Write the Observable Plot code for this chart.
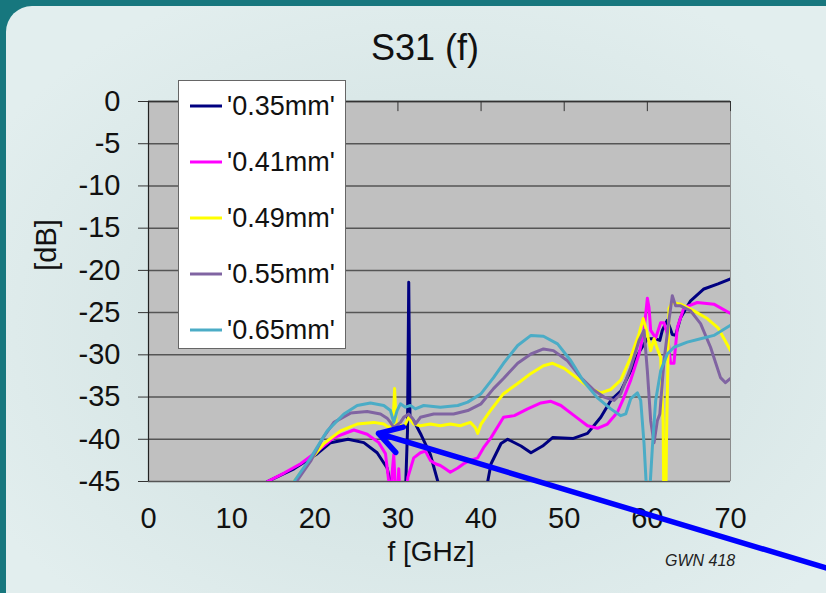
<!DOCTYPE html>
<html>
<head>
<meta charset="utf-8">
<script src="https://cdn.jsdelivr.net/npm/d3@7"></script>
<script src="https://cdn.jsdelivr.net/npm/@observablehq/plot@0.6"></script>
<style>
html,body{margin:0;padding:0;width:826px;height:593px;overflow:hidden;background:#17777e;font-family:Arial,"Liberation Sans",sans-serif;color:#111;}
#panel{position:absolute;left:6px;top:6px;width:850px;height:620px;border-radius:26px;
  background:radial-gradient(ellipse 60% 60% at 50% 52%, #cbdbdb 0%, #d6e5e5 45%, #e2eeee 100%);}
#chart{position:absolute;left:0;top:0;}
.lbl{position:absolute;line-height:1;white-space:nowrap;}
#legend{position:absolute;left:178px;top:80px;width:168px;height:269px;background:#fff;border:1px solid #666;box-sizing:border-box;}
.item{position:absolute;left:11px;height:28px;display:flex;align-items:center;font-size:27px;line-height:1;}
.item svg{margin-right:5px;}
</style>
</head>
<body>
<div id="panel"></div>
<div id="chart"></div>
<div class="lbl" id="title" style="left:325px;width:200px;text-align:center;top:30px;font-size:36px;">S31 (f)</div>
<div class="lbl" id="xlabel" style="left:331px;width:200px;text-align:center;top:538px;font-size:28px;">f [GHz]</div>
<div class="lbl" id="ylabel" style="left:46px;top:245px;font-size:29px;transform:translate(-50%,-50%) rotate(-90deg);">[dB]</div>
<div class="lbl" id="note" style="left:665px;top:553px;font-size:16px;font-style:italic;color:#222;">GWN 418</div>
<div id="legend"></div>
<script>
// ---- data ----
const seriesNames = ["'0.35mm'", "'0.41mm'", "'0.49mm'", "'0.55mm'", "'0.65mm'"];
const seriesColors = ["#000080", "#ff00ff", "#ffff00", "#8064a2", "#4bacc6"];
const xTicks = [0, 10, 20, 30, 40, 50, 60, 70];
const yTicks = [0, -5, -10, -15, -20, -25, -30, -35, -40, -45];

const f_035  = [13, 14.3, 17.5, 20.3, 21.9, 24, 25.9, 27.5, 28.7, 29.3, 29.6, 30.6, 30.95, 31.15, 31.3, 31.45, 31.9, 32.8, 33.9, 34.8, 35.2, 40.2, 40.8, 41.2, 42.4, 43.2, 44.8, 46, 47.4, 48.6, 51.1, 52.8, 54.4, 55.6, 56.8, 58, 59, 60, 61, 61.5, 61.8, 62.4, 63, 63.4, 64, 65.2, 66.8, 68.5, 70];
const db_035 = [-47, -45, -43.5, -41.7, -40.4, -40, -40.4, -41.6, -43.4, -46, -50, -50, -45, -39, -21.4, -37.5, -37.8, -39.5, -41.8, -45, -50, -50, -45, -42.9, -40.5, -40, -40.8, -41.6, -40.8, -39.8, -39.9, -39.3, -37.4, -35.4, -34.3, -31.9, -29.7, -28.1, -28.1, -28.3, -27.1, -25.9, -27.6, -27.7, -25.6, -23.6, -22.2, -21.6, -21];

const f_041  = [13, 14.3, 16.3, 18.3, 20.3, 22.3, 24.7, 26.3, 27.7, 28.5, 28.9, 29.1, 29.3, 29.5, 29.7, 29.9, 30.1, 30.3, 30.8, 31.2, 31.9, 32.7, 33.3, 33.9, 34.5, 35.1, 35.7, 36.3, 37.2, 37.9, 38.7, 39.6, 40.3, 41.2, 42.7, 44, 45.6, 47.2, 48.4, 49.6, 51.2, 52.8, 54, 55.2, 56.4, 57.2, 58, 59, 59.6, 60, 60.2, 60.4, 61, 61.6, 62, 62.4, 62.8, 63.2, 63.6, 64.4, 66, 68, 70];
const db_041 = [-47, -45, -44, -42.9, -41.4, -39.8, -38.9, -39.4, -40.4, -41.7, -45, -48, -44, -41.8, -46, -48, -43.5, -48, -48, -44.5, -42.2, -41.6, -41.4, -42.5, -42.9, -43.1, -43.5, -43.9, -43.4, -42.9, -42.5, -42.2, -41, -39.8, -37.4, -37.2, -36.4, -35.7, -35.5, -36, -37.2, -38.4, -38.7, -38.2, -36.8, -35, -33, -29.9, -27.1, -23.3, -24.4, -27.1, -28, -26.2, -26.2, -27.5, -31, -31, -26.8, -24.4, -23.8, -24, -25.1];

const f_049  = [15, 17.5, 19.1, 21.1, 23.1, 25.1, 27.1, 28.3, 28.9, 29.4, 29.6, 29.8, 30.1, 30.7, 31.3, 31.9, 32.7, 33.9, 35.1, 36.3, 37.5, 38.7, 39.3, 39.6, 40, 41.2, 42.7, 44.4, 46, 47.5, 48.6, 50, 51.6, 53.2, 54.4, 55.6, 56.8, 58, 59, 59.5, 60, 60.4, 60.8, 61.2, 61.6, 61.9, 62.0, 62.2, 62.3, 62.6, 63, 64, 65.6, 67.2, 68.5, 70];
const db_049 = [-50, -45, -42.9, -40.5, -39, -38.2, -38, -38.2, -38.6, -38.4, -34, -38.3, -38.2, -38.6, -37.4, -38.2, -38.4, -38.2, -38.4, -38.2, -38.4, -38, -38.6, -39.3, -38.2, -36.5, -34.6, -33.4, -32.2, -31.3, -31, -31.6, -32.8, -34, -34.5, -34.1, -33, -30.3, -27.5, -25.7, -27.5, -29.5, -28.1, -29.3, -30.3, -38, -50, -50, -40, -24.5, -23.8, -24, -24.8, -25.7, -26.8, -29.5];

const f_055  = [17, 17.8, 19.5, 21, 22.3, 24.3, 26.3, 27.9, 28.7, 29.1, 29.5, 30.3, 30.7, 31.3, 31.8, 32.1, 32.7, 34.3, 36.7, 38.4, 40, 41.5, 42.7, 44.4, 46, 47.5, 48.7, 50.4, 52, 53.6, 54.8, 56, 56.8, 58, 59, 59.6, 60, 60.4, 60.8, 61.2, 61.5, 62, 62.6, 63, 63.4, 64, 65.2, 66.4, 67.6, 68.8, 69.4, 70];
const db_055 = [-50, -45, -42.6, -39.8, -38, -36.9, -36.7, -37, -37.5, -38, -38.6, -38, -37.4, -37, -37.6, -38.2, -37.4, -37, -37, -36.6, -35.8, -34, -32.8, -31, -29.9, -29.3, -29.5, -30.7, -32.7, -34.2, -35, -35.4, -34.6, -31.5, -28.3, -27.1, -31.9, -37.8, -40.4, -37.8, -37, -30.7, -25.9, -23, -24.2, -24.2, -24.8, -26.3, -29.1, -32.7, -33.3, -32.8];

const f_065  = [16.5, 17.5, 19.5, 21.5, 23.5, 25.1, 26.7, 28.3, 29.1, 29.5, 29.9, 30.3, 30.9, 31.5, 32.1, 33.1, 35.1, 37.2, 38.4, 40, 41.5, 42.7, 44.4, 46, 47.5, 49.2, 50.8, 52.3, 54, 55.6, 56.8, 57.4, 58, 58.8, 59.2, 59.6, 59.9, 60.1, 60.3, 60.6, 61, 61.6, 62.4, 63.2, 64.8, 66.4, 68, 70];
const db_065 = [-50, -45, -42.2, -39, -37, -36, -35.7, -36, -36.6, -38, -36.6, -35.8, -36.2, -36, -36.4, -36, -36.2, -36, -35.6, -34.6, -32.7, -31, -28.9, -27.7, -27.8, -28.7, -30.7, -33.1, -35.1, -36.4, -37.2, -37, -35.2, -34.5, -35.4, -40.5, -46, -50, -46, -41, -35.4, -31.9, -29.9, -29.1, -28.5, -28.1, -27.7, -26.5];

// annotation arrow (from lower-right, pointing into the curves)
const arrowNote = [{f1: 84.4, db1: -56.1, f2: 27.66, db2: -39.3}];

// ---- build table ----
const fs = [f_035, f_041, f_049, f_055, f_065];
const dbs = [db_035, db_041, db_049, db_055, db_065];
const rows = [];
seriesNames.forEach((s, i) => fs[i].forEach((f, j) => rows.push({series: s, f, db: dbs[i][j]})));

const chart = Plot.plot({
  width: 826,
  height: 593,
  marginLeft: 148,
  marginRight: 96,
  marginTop: 101,
  marginBottom: 112,
  style: {background: "transparent", fontFamily: "Arial, 'Liberation Sans', sans-serif", color: "#111"},
  x: {domain: [0, 70]},
  y: {domain: [-45, 0]},
  color: {domain: seriesNames, range: seriesColors},
  marks: [
    Plot.frame({fill: "#c0c0c0", stroke: null}),
    Plot.ruleY(yTicks, {stroke: "#555", strokeWidth: 1.5}),
    Plot.ruleX([70], {stroke: "#8c8c8c", strokeWidth: 1}),
    Plot.ruleY([0], {stroke: "#333", strokeWidth: 1.5}),
    Plot.ruleX(xTicks.slice(1), {y1: 0, y2: -1.2, stroke: "#333", strokeWidth: 1}),
    Plot.ruleX([0], {stroke: "#222", strokeWidth: 1.2}),
    Plot.axisY(yTicks, {anchor: "left", tickSize: 10, tickPadding: 18, fontSize: 29, label: null, stroke: "#333", tickFormat: (d) => String(d)}),
    Plot.axisX(xTicks, {anchor: "bottom", tickSize: 0, tickPadding: 26, fontSize: 29, label: null, tickFormat: (d) => String(d)}),
    Plot.line(rows, {x: "f", y: "db", z: "series", stroke: "series", strokeWidth: 3, clip: true}),
    Plot.arrow(arrowNote, {x1: "f1", y1: "db1", x2: "f2", y2: "db2", stroke: "#0000ff", strokeWidth: 5.5, headLength: 7, headAngle: 62})
  ]
});
document.getElementById("chart").appendChild(chart);

// ---- legend ----
const legend = document.getElementById("legend");
seriesNames.forEach((s, i) => {
  const d = document.createElement("div");
  d.className = "item";
  d.style.top = (11 + i * 56) + "px";
  d.innerHTML = `<svg width="32" height="6"><line x1="0" y1="3" x2="32" y2="3" stroke="${seriesColors[i]}" stroke-width="3"/></svg><span>${s}</span>`;
  legend.appendChild(d);
});
</script>
</body>
</html>
